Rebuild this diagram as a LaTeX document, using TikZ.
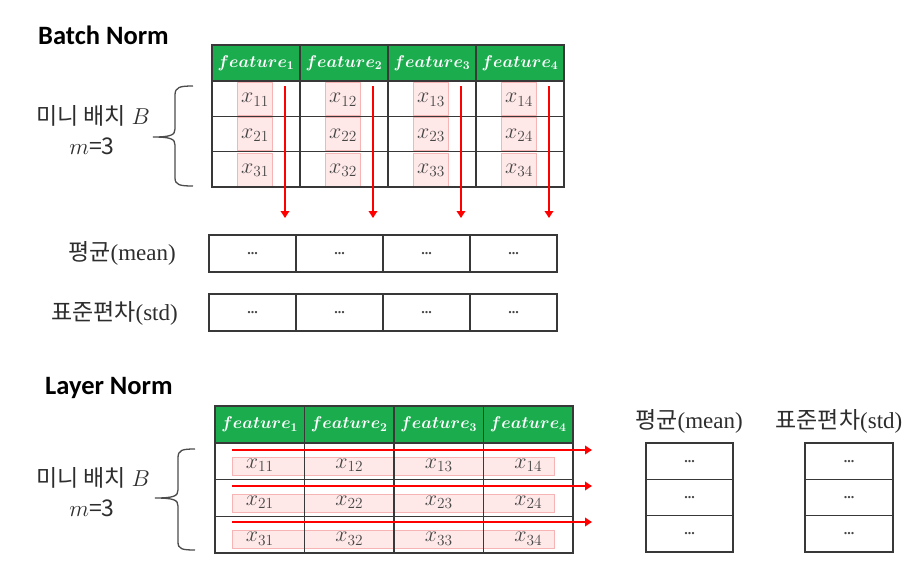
\documentclass[tikz,border=0pt]{standalone}
\usepackage{fix-cm}
\usepackage{amsmath}
\usepackage{bm}
\usepackage{fontspec}
\setmainfont{Liberation Serif}
\newfontfamily\kr{Noto Sans CJK KR}
\newfontfamily\ttl{Carlito}
\usetikzlibrary{arrows.meta}
\definecolor{hgreen}{RGB}{27,172,78}
\definecolor{pinkfill}{RGB}{255,232,232}
\definecolor{pinkline}{RGB}{246,180,180}
\definecolor{txtgray}{RGB}{70,70,70}
\definecolor{lblgray}{RGB}{45,45,45}
\tikzset{
  cellbox/.style={draw=black!78, line width=1.3pt, inner sep=0pt, outer sep=0pt, text=txtgray, font=\fontsize{22}{26}\selectfont},
  hdrbox/.style={cellbox, fill=hgreen, text=white, font=\fontsize{17}{20}\selectfont},
  pinkbox/.style={draw=pinkline, fill=pinkfill, line width=0.6pt, inner sep=0pt},
  redarrow/.style={draw=red, line width=2.4pt, -{Triangle[width=8.5pt,length=7pt]}},
  lbl/.style={text=lblgray, font=\fontsize{23}{26}\selectfont, inner sep=0pt},
  titletext/.style={font=\ttl\bfseries\fontsize{26.5}{30}\selectfont, inner sep=0pt},
  bracepath/.style={draw=black!70, line width=1.3pt},
  dotsfont/.style={font=\bfseries\fontsize{14}{16}\selectfont}
}
\begin{document}
\begin{tikzpicture}[x=1pt,y=-1pt]
\useasboundingbox (0,0) rectangle (922,574);
\fill[white] (0,0) rectangle (922,574);

% ---------------- Batch Norm ----------------
\node[titletext, anchor=west] (btitle) at (38,35) {Batch Norm};

% pink boxes (per cell, columns)
\foreach \i in {1,...,4}{
  \foreach \r in {1,2,3}{
    \node[pinkbox, minimum width=35pt, minimum height=33pt] (bp\i\r) at ({212+88*(\i-1)+43}, {81+35.33*(\r-0.5)}) {};
  }
}
% header and cells
\foreach \i in {1,...,4}{
  \node[hdrbox, minimum width=88pt, minimum height=36pt] (bh\i) at ({212+88*(\i-1)+44}, 63) {$\bm{feature_{\i}}$};
  \foreach \r in {1,2,3}{
    \node[cellbox, minimum width=88pt, minimum height=35.33pt] (bc\r\i) at ({212+88*(\i-1)+44}, {81+35.33*(\r-0.5)}) {};
    \node[text=txtgray, font=\fontsize{22}{26}\selectfont, inner sep=0pt] (bx\r\i) at ({212+88*(\i-1)+43}, {81+35.33*(\r-0.5)+1}) {$x_{\r\i}$};
  }
}
% arrows down
\foreach \i in {1,...,4}{
  \coordinate (bas\i) at ({212+88*\i-15}, 86);
  \coordinate (bae\i) at ({212+88*\i-15}, 218);
  \draw[redarrow] (bas\i) -- (bae\i);
}
% mean / std rows
\foreach \i in {1,...,4}{
  \node[cellbox, dotsfont, minimum width=87pt, minimum height=37pt] (bmean\i) at ({209+87*(\i-1)+43.5}, 253.5) {...};
  \node[cellbox, dotsfont, minimum width=87pt, minimum height=37pt] (bstd\i) at ({209+87*(\i-1)+43.5}, 312.5) {...};
}
\node[lbl, anchor=east] (bmeanlbl) at (176,253) {{\kr 평균}(mean)};
\node[lbl, anchor=east] (bstdlbl) at (178,313) {{\kr 표준편차}(std)};

% minibatch label and brace
\node[lbl] (blbl1) at (93,116) {{\kr 미니 배치} $B$};
\node[lbl] (blbl2) at (92,146) {$m${\kr =3}};
\draw[bracepath] (193,86) .. controls (180,86) and (175,87) .. (175,95) -- (175,129)
   .. controls (175,135) and (171,137) .. (153,137)
   .. controls (171,137) and (175,139) .. (175,145) -- (175,178)
   .. controls (175,185) and (180,186) .. (193,186);

% ---------------- Layer Norm ----------------
\node[titletext, anchor=west] (ltitle) at (45,388) {Layer Norm};

\foreach \r in {1,2,3}{
  \node[pinkbox, minimum width=322pt, minimum height=18pt] (lp\r) at (393, {443+36.67*(\r-0.5)+5}) {};
}
\foreach \i in {1,...,4}{
  \node[hdrbox, minimum width=89.5pt, minimum height=37pt] (lh\i) at ({215+89.5*(\i-1)+44.75}, 424.5) {$\bm{feature_{\i}}$};
  \foreach \r in {1,2,3}{
    \node[cellbox, minimum width=89.5pt, minimum height=36.67pt] (lc\r\i) at ({215+89.5*(\i-1)+44.75}, {443+36.67*(\r-0.5)}) {};
    \node[text=txtgray, font=\fontsize{22}{26}\selectfont, inner sep=0pt] (lx\r\i) at ({215+89.5*(\i-1)+44.75}, {443+36.67*(\r-0.5)+4}) {$x_{\r\i}$};
  }
}
\foreach \r in {1,2,3}{
  \coordinate (las\r) at (232, {450+36*(\r-1)});
  \coordinate (lae\r) at (592, {450+36*(\r-1)});
  \draw[redarrow] (las\r) -- (lae\r);
}
% right mean / std columns
\node[lbl] (lmeanlbl) at (689,421) {{\kr 평균}(mean)};
\node[lbl] (lstdlbl) at (839,421) {{\kr 표준편차}(std)};
\foreach \r in {1,2,3}{
  \node[cellbox, dotsfont, minimum width=87pt, minimum height=36.33pt] (lmean\r) at (689.5, {443+36.33*(\r-0.5)}) {...};
  \node[cellbox, dotsfont, minimum width=88pt, minimum height=36.33pt] (lstd\r) at (849, {443+36.33*(\r-0.5)}) {...};
}

\node[lbl] (llbl1) at (93,478) {{\kr 미니 배치} $B$};
\node[lbl] (llbl2) at (92,508) {$m${\kr =3}};
\draw[bracepath] (195,449) .. controls (182,449) and (178,450) .. (178,458) -- (178,490)
   .. controls (178,496) and (174,498) .. (155,498)
   .. controls (174,498) and (178,500) .. (178,506) -- (178,542)
   .. controls (178,549) and (182,550) .. (195,550);
\end{tikzpicture}
\end{document}
